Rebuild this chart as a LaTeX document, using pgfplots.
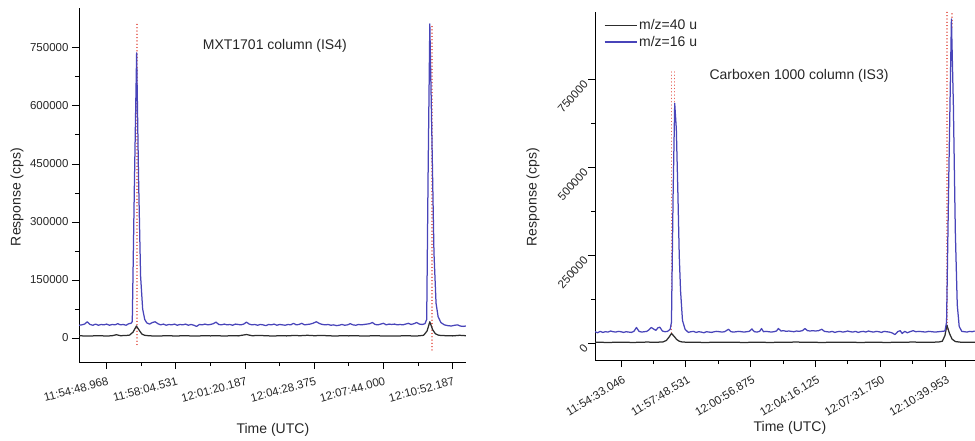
\documentclass[border=0pt]{standalone}
\usepackage{fontspec}
\setmainfont{Liberation Sans}
\usepackage{pgfplots}
\pgfplotsset{compat=1.18}
\definecolor{cblue}{RGB}{72,68,185}
\definecolor{cblack}{RGB}{45,45,45}
\definecolor{cred}{RGB}{228,95,85}
\pgfplotsset{
  myax/.style={
    scale only axis,
    anchor=south west,
    axis lines=left,
    axis line style={-, line width=0.9bp, black},
    tick align=outside,
    major tick length=7bp,
    minor tick length=4bp,
    tick style={black, line width=0.8bp},
    minor x tick num=1,
    minor y tick num=1,
    scaled ticks=false,
    xtick={0,1,2,3,4,5},
    tick label style={font=\fontsize{11.5bp}{13bp}\selectfont, black!85},
    label style={font=\fontsize{14bp}{16bp}\selectfont, black!85},
    xticklabel style={rotate=15, anchor=north east, inner sep=1.5bp, yshift=-6bp},
    ylabel={Response (cps)},
    xlabel={Time (UTC)},
  },
  blueline/.style={cblue, line width=1.25bp, line join=round},
  blackline/.style={cblack, line width=1.25bp, line join=round},
  redline/.style={cred, line width=1.3bp, line cap=round, dash pattern=on 0.1bp off 3.2bp, forget plot},
}
\begin{document}
\begin{tikzpicture}
\useasboundingbox (0,0) rectangle (975bp,441bp);
% ---------------- left panel ----------------
\begin{axis}[myax,
  at={(79bp,79bp)}, width=387bp, height=354bp,
  xmin=-0.4, xmax=5.193, ymin=-62000, ymax=853000,
  xticklabels={11:54:48.968,11:58:04.531,12:01:20.187,12:04:28.375,12:07:44.000,12:10:52.187},
  ytick={0,150000,300000,450000,600000,750000},
  yticklabels={0,150000,300000,450000,600000,750000},
  xlabel style={at={(axis description cs:0.501,-0.192)}, anchor=center},
  ylabel style={at={(axis description cs:-0.160,0.466)}, anchor=center},
]
\addplot[redline] coordinates {(0.438,-17000) (0.438,815000)};
\addplot[redline] coordinates {(4.70,-31000) (4.70,805000)};
\addplot[blackline] coordinates {
(-0.40,6000) (-0.30,5000) (-0.20,5500) (-0.10,6000) (0.00,5000) (0.08,6000) (0.14,8500) (0.20,6000) (0.28,6500) (0.33,7500) (0.38,15000) (0.43,31000) (0.47,20000) (0.51,10000) (0.55,7000) (0.60,6000) (0.70,5000) (0.80,5500) (0.90,6000) (1.00,5000) (1.10,6000) (1.20,5500) (1.30,5000) (1.40,6000) (1.50,5500) (1.60,6000) (1.70,5000) (1.80,6000) (1.90,5500) (2.02,9000) (2.10,6000) (2.20,6500) (2.30,6000) (2.40,5000) (2.50,6000) (2.60,5500) (2.70,6500) (2.80,6000) (2.90,7000) (3.00,6000) (3.10,6500) (3.20,6000) (3.30,5000) (3.40,6000) (3.50,5500) (3.60,6000) (3.70,5000) (3.80,5500) (3.90,6000) (4.00,5000) (4.10,5500) (4.20,5000) (4.30,6000) (4.40,5500) (4.50,5500) (4.58,7000) (4.63,18000) (4.67,42000) (4.71,22000) (4.75,11000) (4.80,7000) (4.90,6000) (5.00,5500) (5.10,7000) (5.19,6000)
};
\addplot[blueline] coordinates {
(-0.40,33000) (-0.36,34000) (-0.32,36000) (-0.28,42000) (-0.24,35000) (-0.20,33000) (-0.16,36000) (-0.12,33000) (-0.08,35000) (-0.04,34000) (0.00,36000) (0.04,33000) (0.08,35000) (0.12,34000) (0.16,37000) (0.20,34000) (0.24,35000) (0.28,33000) (0.32,37000) (0.35,38000) (0.37,42000) (0.40,390000) (0.433,737000) (0.46,420000) (0.49,160000) (0.52,75000) (0.55,48000) (0.58,39000) (0.62,36000) (0.66,40000) (0.70,42000) (0.74,37000) (0.78,34000) (0.82,36000) (0.86,33000) (0.90,35000) (0.94,34000) (0.98,36000) (1.02,33000) (1.06,35000) (1.10,34000) (1.14,36000) (1.18,33000) (1.22,35000) (1.26,33000) (1.30,30000) (1.34,35000) (1.38,34000) (1.42,36000) (1.46,34000) (1.50,35000) (1.54,37000) (1.58,41000) (1.62,35000) (1.66,34000) (1.70,36000) (1.74,34000) (1.78,35000) (1.82,33000) (1.86,36000) (1.90,35000) (1.94,34000) (1.98,36000) (2.02,41000) (2.06,36000) (2.10,34000) (2.14,35000) (2.18,33000) (2.22,35000) (2.26,34000) (2.30,32000) (2.34,35000) (2.38,34000) (2.42,36000) (2.46,33000) (2.50,35000) (2.54,34000) (2.58,33000) (2.62,35000) (2.66,34000) (2.70,38000) (2.74,34000) (2.78,35000) (2.82,38000) (2.86,34000) (2.90,35000) (2.94,36000) (2.98,38000) (3.03,42000) (3.08,37000) (3.12,35000) (3.16,34000) (3.20,35000) (3.24,33000) (3.28,34000) (3.32,32000) (3.36,33000) (3.40,35000) (3.44,33000) (3.48,34000) (3.52,37000) (3.56,34000) (3.60,33000) (3.64,35000) (3.68,34000) (3.72,35000) (3.76,36000) (3.80,37000) (3.84,40000) (3.88,35000) (3.92,34000) (3.96,36000) (4.00,38000) (4.04,34000) (4.08,36000) (4.12,35000) (4.16,36000) (4.20,34000) (4.24,35000) (4.28,34000) (4.32,36000) (4.36,38000) (4.40,35000) (4.44,37000) (4.48,40000) (4.52,36000) (4.56,35000) (4.60,37000) (4.625,48000) (4.645,420000) (4.67,812000) (4.70,520000) (4.73,220000) (4.76,90000) (4.79,55000) (4.83,40000) (4.88,34000) (4.93,32000) (4.98,31000) (5.03,33000) (5.07,34000) (5.11,31000) (5.15,30000) (5.19,31000)
};
\node[font=\fontsize{14bp}{16bp}\selectfont, black!85] at (rel axis cs:0.506,0.893) {MXT1701 column (IS4)};
\end{axis}
% ---------------- right panel ----------------
\begin{axis}[myax,
  at={(595bp,81bp)}, width=380bp, height=348bp,
  xmin=-0.4, xmax=5.464, ymin=-47500, ymax=943000,
  xticklabels={11:54:33.046,11:57:48.531,12:00:56.875,12:04:16.125,12:07:31.750,12:10:39.953},
  xticklabel style={rotate=16},
  ytick={0,250000,500000,750000},
  yticklabels={0,250000,500000,750000},
  yticklabel style={rotate=48, anchor=east},
  xlabel style={at={(axis description cs:0.513,-0.195)}, anchor=center},
  ylabel style={at={(axis description cs:-0.163,0.468)}, anchor=center},
  legend style={at={(axis description cs:0.015,0.99)}, anchor=north west, draw=none, fill=none,
    font=\fontsize{14bp}{16bp}\selectfont, text=black!85, row sep=1bp},
  legend cell align=left,
  legend image code/.code={\draw[#1] (0bp,0bp) -- (32bp,0bp);},
]
\addplot[redline] coordinates {(0.782,30000) (0.782,773000)};
\addplot[redline] coordinates {(0.823,650000) (0.823,773000)};
\addplot[redline] coordinates {(5.03,40000) (5.03,943000)};
\addplot[redline] coordinates {(5.11,900000) (5.11,943000)};
\addplot[blackline] coordinates {
(-0.40,3000) (-0.20,2500) (0.00,3000) (0.20,2500) (0.40,3500) (0.55,3000) (0.65,4000) (0.70,8000) (0.74,17000) (0.78,28000) (0.82,20000) (0.86,11000) (0.90,6000) (0.95,3500) (1.10,3000) (1.30,2500) (1.50,3000) (1.70,3000) (1.90,2500) (2.10,3000) (2.30,2500) (2.50,3000) (2.70,3500) (2.90,3000) (3.10,2500) (3.30,3000) (3.50,3000) (3.70,2500) (3.90,3000) (4.10,2500) (4.30,3000) (4.50,3500) (4.70,3000) (4.90,3500) (4.96,6000) (5.00,22000) (5.03,52000) (5.07,28000) (5.11,12000) (5.16,5000) (5.25,3000) (5.46,3000)
};
\addlegendentry{m/z=40 u}
\addplot[blueline] coordinates {
(-0.40,33000) (-0.36,30000) (-0.32,34000) (-0.28,31000) (-0.24,33000) (-0.20,32000) (-0.16,35000) (-0.12,33000) (-0.08,32000) (-0.04,34000) (0.00,33000) (0.04,31000) (0.08,33000) (0.12,32000) (0.16,31000) (0.20,34000) (0.24,45000) (0.28,34000) (0.32,32000) (0.36,33000) (0.40,34000) (0.43,38000) (0.47,45000) (0.51,40000) (0.54,37000) (0.57,44000) (0.60,46000) (0.64,35000) (0.68,33000) (0.72,34000) (0.76,40000) (0.78,60000) (0.805,420000) (0.83,683000) (0.855,610000) (0.88,420000) (0.90,250000) (0.92,150000) (0.95,65000) (0.99,40000) (1.04,31000) (1.08,33000) (1.12,34000) (1.16,31000) (1.20,33000) (1.24,32000) (1.28,30000) (1.32,33000) (1.36,32000) (1.40,31000) (1.44,33000) (1.48,34000) (1.52,33000) (1.56,32000) (1.60,33000) (1.66,40000) (1.70,33000) (1.74,32000) (1.78,33000) (1.82,34000) (1.86,33000) (1.90,32000) (1.94,33000) (1.98,34000) (2.02,41000) (2.06,33000) (2.10,32000) (2.14,34000) (2.17,42000) (2.20,33000) (2.24,34000) (2.28,33000) (2.32,32000) (2.36,33000) (2.40,35000) (2.43,42000) (2.47,35000) (2.51,36000) (2.55,34000) (2.59,35000) (2.63,34000) (2.67,33000) (2.71,35000) (2.75,34000) (2.80,36000) (2.84,42000) (2.88,36000) (2.92,35000) (2.96,36000) (3.00,35000) (3.05,36000) (3.10,40000) (3.14,34000) (3.18,33000) (3.22,32000) (3.26,34000) (3.30,31000) (3.34,33000) (3.38,34000) (3.42,32000) (3.46,33000) (3.50,35000) (3.54,33000) (3.58,32000) (3.62,34000) (3.66,31000) (3.70,33000) (3.74,34000) (3.78,32000) (3.82,35000) (3.86,33000) (3.90,32000) (3.94,34000) (3.98,33000) (4.02,31000) (4.06,34000) (4.10,33000) (4.14,32000) (4.18,30000) (4.23,25000) (4.27,33000) (4.31,36000) (4.34,28000) (4.38,34000) (4.42,30000) (4.46,33000) (4.51,36000) (4.55,33000) (4.60,34000) (4.65,33000) (4.70,32000) (4.75,34000) (4.80,33000) (4.85,32000) (4.90,33000) (4.95,34000) (5.00,35000) (5.025,60000) (5.06,480000) (5.10,923000) (5.13,680000) (5.16,320000) (5.19,110000) (5.22,48000) (5.26,34000) (5.30,33000) (5.34,32000) (5.38,34000) (5.42,33000) (5.46,35000)
};
\addlegendentry{m/z=16 u}
\node[font=\fontsize{14bp}{16bp}\selectfont, black!85] at (rel axis cs:0.537,0.816) {Carboxen 1000 column (IS3)};
\end{axis}
\end{tikzpicture}
\end{document}
